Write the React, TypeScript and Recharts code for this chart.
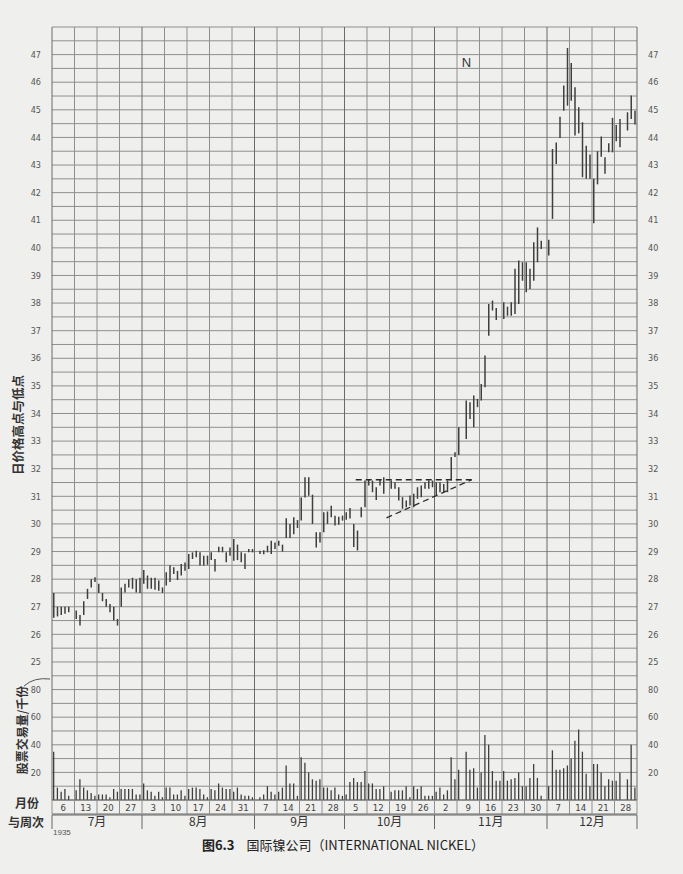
import { ComposedChart, Bar, XAxis, YAxis, CartesianGrid, ReferenceLine, ReferenceDot } from "recharts";

// one slot per trading day, six slots (Mon..Sat) per week, null = no trading
const highs: (number | null)[] = [
  27.5, 27.0, 27.0, 27.0, 27.0, null, // Jul 6
  26.86, 26.7, 27.2, 27.65, 28.0, 28.07, // Jul 13
  27.83, 27.5, 27.28, 27.1, 27.0, 26.56, // Jul 20
  27.7, 27.83, 28.0, 28.05, 28.0, 28.05, // Jul 27
  28.33, 28.13, 28.05, 28.05, 27.95, 27.7, // Aug 3
  28.25, 28.5, 28.43, 28.3, 28.55, 28.6, // Aug 10
  28.91, 28.97, 29.03, 28.97, 28.85, 28.85, // Aug 17
  28.97, 28.73, 29.17, 29.17, 28.97, 29.15, // Aug 24
  29.45, 29.25, 28.97, 28.93, 29.09, 29.09, // Aug 31
  null, 29.03, 29.05, 29.21, 29.39, 29.33, // Sep 7
  29.39, 29.25, 30.21, 30.0, 30.24, 30.14, // Sep 14
  30.96, 31.69, 31.69, 31.06, 29.7, 29.7, // Sep 21
  30.42, 30.45, 30.66, 30.3, 30.26, 30.3, // Sep 28
  30.42, 30.58, 30.0, 29.76, 30.6, 31.57, // Oct 5
  31.63, 31.57, 31.33, 31.63, 31.69, null, // Oct 12
  31.57, 31.51, 31.33, 30.97, 30.85, 31.03, // Oct 19
  31.09, 31.33, 31.39, 31.51, 31.57, 31.57, // Oct 26
  31.51, 31.51, 31.45, 31.57, 32.42, 32.6, // Nov 2
  33.5, null, 34.47, 34.41, 34.65, 34.53, // Nov 9
  35.07, 36.1, 37.97, 38.09, 37.82, null, // Nov 16
  38.03, 37.87, 38.03, 39.24, 39.54, 39.48, // Nov 23
  39.48, 39.24, 40.2, 40.74, 40.26, null, // Nov 30
  40.29, 43.58, 43.82, 44.75, 45.88, 47.24, // Dec 7
  46.7, 45.82, 45.09, 44.55, 43.7, 43.38, // Dec 14
  42.5, 43.5, 44.03, 43.28, 43.79, 44.71, // Dec 21
  44.45, 44.67, null, 44.91, 45.52, 44.97, // Dec 28
];

const lows: (number | null)[] = [
  26.6, 26.65, 26.7, 26.75, 26.8, null,
  26.56, 26.32, 26.7, 27.28, 27.7, 27.9,
  27.5, 27.2, 27.0, 26.8, 26.5, 26.32,
  27.0, 27.52, 27.7, 27.65, 27.52, 27.5,
  27.83, 27.65, 27.65, 27.62, 27.58, 27.5,
  27.77, 27.9, 28.19, 27.97, 28.13, 28.3,
  28.37, 28.73, 28.79, 28.49, 28.49, 28.52,
  28.69, 28.28, 28.97, 28.97, 28.61, 28.85,
  28.67, 28.69, 28.61, 28.37, 28.97, 28.97,
  null, 28.91, 28.9, 28.97, 28.91, 29.09,
  29.21, 29.0, 29.49, 29.49, 29.63, 29.85,
  30.12, 30.96, 31.02, 30.0, 29.15, 29.33,
  29.7, 30.0, 30.24, 29.94, 29.97, 30.12,
  30.15, 30.2, 29.16, 29.04, 30.24, 30.6,
  31.39, 31.15, 30.87, 31.39, 31.09, null,
  31.27, 31.27, 30.85, 30.55, 30.6, 30.67,
  30.6, 30.91, 30.97, 31.27, 31.27, 31.33,
  31.03, 31.15, 31.15, 31.15, 31.57, 32.42,
  32.5, null, 33.08, 33.8, 33.5, 34.23,
  34.47, 34.95, 36.82, 37.73, 37.39, null,
  37.42, 37.54, 37.54, 37.6, 37.97, 38.81,
  38.39, 38.51, 38.81, 39.48, 39.96, null,
  39.72, 41.05, 43.04, 43.98, 44.97, 45.15,
  45.33, 44.07, 44.15, 42.56, 42.5, 42.5,
  40.89, 42.3, 43.3, 42.68, 43.46, 43.46,
  43.86, 43.64, null, 44.25, 44.67, 44.47,
];

// thousands of shares
const volumes: (number | null)[] = [
  35, 9, 6, 8, 3, null,
  7, 15, 9, 7, 5, 3,
  4, 4, 4, 2, 8, 6,
  8, 8, 8, 8, 4, 4,
  12, 7, 6, 3, 6, 2,
  9, 9, 4, 4, 7, 3,
  8, 9, 9, 8, 4, 2,
  8, 7, 12, 9, 8, 8,
  6, 9, 4, 3, 3, 2,
  null, 2, 4, 10, 6, 4,
  6, 9, 25, 12, 12, 3,
  31, 27, 20, 15, 14, 15,
  9, 9, 7, 9, 4, 3,
  4, 13, 16, 13, 13, 21,
  12, 12, 8, 8, 10, null,
  6, 7, 7, 7, 10, 2,
  10, 8, 10, 3, 3, 3,
  6, 9, 4, 7, 31, 15,
  22, null, 35, 22, 23, 9,
  20, 47, 40, 21, 14, 14,
  21, 14, 15, 16, 20, 10,
  10, 16, 26, 16, 3, null,
  10, 36, 22, 22, 23, 25,
  30, 43, 51, 35, 19, 10,
  26, 26, 20, 10, 15, 14,
  14, 20, null, 15, 40, 9,
];

const weekLabels = ["6", "13", "20", "27", "3", "10", "17", "24", "31", "7", "14", "21", "28",
  "5", "12", "19", "26", "2", "9", "16", "23", "30", "7", "14", "21", "28"];
const monthNames = ["7月", "8月", "9月", "10月", "11月", "12月"];
const monthWeeks = [4, 5, 4, 4, 5, 4];
const priceLabels = [25, 26, 27, 28, 29, 30, 31, 32, 33, 34, 35, 36, 37, 38, 39, 40, 41, 42, 43, 44, 45, 46, 47];
const volumeLabels = [20, 40, 60, 80];

// triangle drawn in October, in (day slot, price)
const dashedLines = [
  [{ x: 81, y: 31.6 }, { x: 112.3, y: 31.6 }],
  [{ x: 89.2, y: 30.22 }, { x: 111.9, y: 31.6 }],
];
const markN = { x: 110.5, y: 46.7 };

const DAYS = 6;
const SLOTS = weekLabels.length * DAYS;
const Y_MIN = 20; // volume zero sits at the bottom of the price scale
const Y_MAX = 48;
const VOL_PER_UNIT = 20;

const data = highs.map((h, i) => {
  const l = lows[i];
  const v = volumes[i];
  return {
    x: i + 0.5,
    price: h == null || l == null ? null : [l, h],
    vol: v == null ? null : [Y_MIN, Y_MIN + v / VOL_PER_UNIT],
  };
});

const yTicks: number[] = [];
for (let t = Y_MIN; t <= Y_MAX; t += 0.5) yTicks.push(t);

const tickText = new Map<number, string>();
priceLabels.forEach((p) => tickText.set(p, String(p)));
volumeLabels.forEach((v) => tickText.set(Y_MIN + v / VOL_PER_UNIT, String(v)));

const weekEdges = weekLabels.map((_, i) => i * DAYS).concat(SLOTS);
const weekMids = weekLabels.map((_, i) => i * DAYS + DAYS / 2);

const monthEdges = [0];
monthWeeks.forEach((w) => monthEdges.push(monthEdges[monthEdges.length - 1] + w * DAYS));
const monthMids = monthNames.map((_, i) => (monthEdges[i] + monthEdges[i + 1]) / 2);

const GRID = "#8f8f8f";
const INK = "#3f3f3f";
const NUM_FONT = "'Liberation Sans Narrow', 'DejaVu Sans Condensed', 'Liberation Sans', sans-serif";
const CJK_FONT = "'Noto Sans CJK SC', 'Noto Sans', sans-serif";

function WeekTick(props: any) {
  const { x, y, payload } = props;
  const v = payload.value;
  if (v % DAYS === 0) {
    return <line x1={x} y1={y} x2={x} y2={y + 14} stroke={GRID} />;
  }
  return (
    <text x={x} y={y + 10.5} textAnchor="middle" fontSize={9.5} fill="#444" fontFamily={NUM_FONT}>
      {weekLabels[(v - DAYS / 2) / DAYS]}
    </text>
  );
}

function MonthTick(props: any) {
  const { x, y, payload } = props;
  const v = payload.value;
  const idx = monthMids.indexOf(v);
  if (idx < 0) {
    return <line x1={x} y1={y} x2={x} y2={y + 14} stroke="#666" />;
  }
  return (
    <text x={x} y={y + 11} textAnchor="middle" fontSize={12} fill="#333" fontFamily={CJK_FONT}>
      {monthNames[idx]}
    </text>
  );
}

const rotated = (left: number, top: number, size: number) => ({
  position: "absolute" as const,
  left,
  top,
  transform: "translate(-50%, -50%) rotate(-90deg)",
  whiteSpace: "nowrap" as const,
  fontSize: size,
  lineHeight: 1,
  fontWeight: 700,
  color: "#333",
  fontFamily: CJK_FONT,
});

const corner = (left: number, top: number) => ({
  position: "absolute" as const,
  left,
  top,
  transform: "translate(-50%, -50%)",
  fontSize: 12,
  lineHeight: 1,
  fontWeight: 700,
  color: "#333",
  fontFamily: CJK_FONT,
  whiteSpace: "nowrap" as const,
});

export default function App() {
  return (
    <div style={{ position: "absolute", left: 0, top: 0, width: 683, height: 874, background: "#efefed", overflow: "hidden" }}>
      <ComposedChart
        width={683}
        height={874}
        data={data}
        margin={{ top: 27, right: 16, left: 22, bottom: 45 }}
        style={{ fontFamily: NUM_FONT }}
      >
        <CartesianGrid xAxisId="day" yAxisId="left" vertical={false} stroke={GRID} strokeWidth={1} />
        <XAxis
          xAxisId="day"
          dataKey="x"
          type="number"
          domain={[0, SLOTS]}
          allowDataOverflow
          ticks={[...weekEdges, ...weekMids].sort((a, b) => a - b)}
          interval={0}
          height={14}
          tickSize={0}
          tickMargin={0}
          tickLine={false}
          axisLine={{ stroke: "#666" }}
          tick={<WeekTick />}
        />
        <XAxis
          xAxisId="month"
          dataKey="x"
          type="number"
          domain={[0, SLOTS]}
          allowDataOverflow
          ticks={[...monthEdges, ...monthMids].sort((a, b) => a - b)}
          interval={0}
          height={14}
          tickSize={0}
          tickMargin={0}
          tickLine={false}
          axisLine={{ stroke: "#666" }}
          tick={<MonthTick />}
        />
        <XAxis
          xAxisId="edge"
          dataKey="x"
          type="number"
          domain={[0, SLOTS]}
          height={1}
          tick={false}
          tickLine={false}
          axisLine={{ stroke: "#666" }}
        />
        <XAxis xAxisId="vol" dataKey="x" type="number" domain={[0, SLOTS]} allowDataOverflow hide />
        <YAxis
          yAxisId="left"
          orientation="left"
          type="number"
          domain={[Y_MIN, Y_MAX]}
          allowDataOverflow
          ticks={yTicks}
          interval={0}
          width={30}
          tickLine={false}
          axisLine={false}
          tickMargin={5}
          tick={{ fontSize: 9, fill: "#555", fontFamily: NUM_FONT }}
          tickFormatter={(v: number) => tickText.get(v) ?? ""}
        />
        <YAxis
          yAxisId="right"
          orientation="right"
          type="number"
          domain={[Y_MIN, Y_MAX]}
          allowDataOverflow
          ticks={yTicks}
          interval={0}
          width={30}
          tickLine={false}
          axisLine={false}
          tickMargin={5}
          tick={{ fontSize: 9, fill: "#555", fontFamily: NUM_FONT }}
          tickFormatter={(v: number) => tickText.get(v) ?? ""}
        />
        {weekEdges.map((e) => (
          <ReferenceLine
            key={`w${e}`}
            xAxisId="day"
            yAxisId="left"
            x={e}
            stroke={monthEdges.includes(e) ? "#6a6a6a" : GRID}
            strokeWidth={1}
          />
        ))}
        <Bar xAxisId="day" yAxisId="left" dataKey="price" barSize={1.5} fill={INK} isAnimationActive={false} />
        <Bar xAxisId="vol" yAxisId="left" dataKey="vol" barSize={1.3} fill={INK} isAnimationActive={false} />
        {dashedLines.map((seg, i) => (
          <ReferenceLine
            key={`d${i}`}
            xAxisId="day"
            yAxisId="left"
            segment={seg}
            stroke="#2a2a2a"
            strokeWidth={1.3}
            strokeDasharray="6 4"
          />
        ))}
        <ReferenceDot
          xAxisId="day"
          yAxisId="left"
          x={markN.x}
          y={markN.y}
          r={0}
          shape={(p: any) => (
            <text x={p.cx} y={p.cy} textAnchor="middle" dominantBaseline="central" fontSize={13} fill="#333" fontFamily="'Liberation Sans', sans-serif">
              N
            </text>
          )}
        />
      </ComposedChart>

      <div style={rotated(18, 425, 12.5)}>日价格高点与低点</div>
      <div style={rotated(22, 730, 12)}>股票交易量/千份</div>
      <svg style={{ position: "absolute", left: 0, top: 0 }} width={60} height={700} viewBox="0 0 60 700">
        <path d="M24 686 Q34 677 50 679" fill="none" stroke="#555" strokeWidth={1} />
      </svg>
      <div style={corner(27, 803)}>月份</div>
      <div style={corner(26, 822)}>与周次</div>
      <div style={{ position: "absolute", left: 53, top: 829, fontSize: 8, lineHeight: 1, color: "#555", fontFamily: "'Liberation Sans', sans-serif" }}>1935</div>
      <div style={{ position: "absolute", left: 343, top: 844, transform: "translate(-50%, -50%)", fontSize: 13, lineHeight: 1, color: "#222", fontFamily: CJK_FONT, whiteSpace: "nowrap" }}>
        <span style={{ fontWeight: 700 }}>图6.3</span>
        <span style={{ marginLeft: 12 }}>国际镍公司（INTERNATIONAL NICKEL）</span>
      </div>
    </div>
  );
}
